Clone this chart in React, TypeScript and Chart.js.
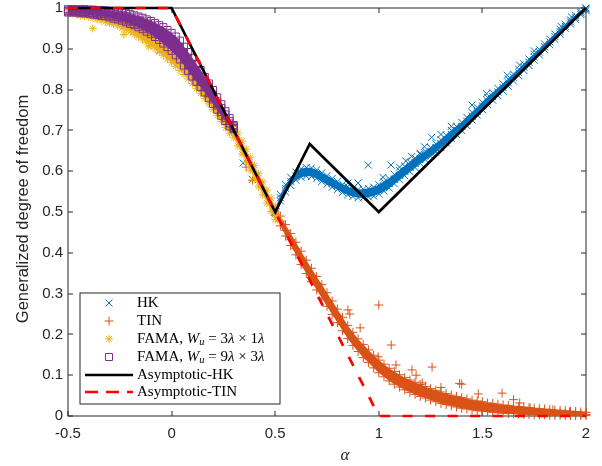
import React, { useEffect, useRef } from "react";
import { Chart, registerables } from "chart.js";
Chart.register(...registerables);

// ---------- axis ticks ----------
const xTicks = [-0.5, 0, 0.5, 1, 1.5, 2];
const yTicks = [0, 0.1, 0.2, 0.3, 0.4, 0.5, 0.6, 0.7, 0.8, 0.9, 1];

// ---------- HK / TIN (alpha from 0.5 to 2) ----------
const hkTinAlpha = [0.5,0.525,0.55,0.575,0.6,0.625,0.65,0.675,0.7,0.725,0.75,0.775,0.8,0.825,0.85,0.875,0.9,0.925,0.95,0.975,1,1.025,1.05,1.075,1.1,1.125,1.15,1.175,1.2,1.225,1.25,1.275,1.3,1.325,1.35,1.375,1.4,1.425,1.45,1.475,1.5,1.525,1.55,1.575,1.6,1.625,1.65,1.675,1.7,1.725,1.75,1.775,1.8,1.825,1.85,1.875,1.9,1.925,1.95,1.975,2];

const hkHigh = [.504,.543,.567,.585,.598,.606,.609,.608,.603,.596,.589,.582,.575,.568,.562,.558,.555,.556,.558,.561,.567,.574,.582,.592,.602,.612,.622,.632,.641,.649,.658,.667,.677,.688,.700,.710,.720,.732,.744,.756,.769,.781,.792,.803,.814,.826,.838,.850,.863,.875,.887,.899,.912,.924,.936,.948,.960,.971,.982,.992,1.0];
const hkMid = [.500,.535,.558,.575,.588,.595,.598,.597,.592,.585,.578,.571,.565,.558,.552,.548,.545,.545,.547,.550,.555,.562,.570,.580,.590,.600,.610,.620,.630,.638,.647,.657,.667,.678,.690,.700,.710,.722,.735,.747,.760,.772,.783,.794,.805,.817,.830,.842,.855,.867,.880,.892,.905,.917,.930,.942,.955,.966,.977,.988,.997];
const hkLow = [.496,.527,.549,.565,.578,.585,.588,.587,.582,.575,.568,.561,.555,.548,.542,.538,.535,.535,.537,.539,.544,.551,.559,.569,.579,.589,.599,.609,.619,.628,.637,.647,.658,.669,.680,.690,.700,.712,.725,.738,.751,.763,.774,.785,.796,.808,.821,.834,.847,.859,.872,.885,.898,.910,.923,.936,.950,.961,.972,.984,.994];
const hkExtraX = [-0.056,0.345,0.39,0.851,0.9,0.949,1.02,1.059,1.1,1.13,1.159,1.199,1.22,1.255,1.3,1.35,1.45,1.52,1.62,1.68,1.75,1.88,1.93];
const hkExtraY = [0.897,0.62,0.58,0.571,0.571,0.615,0.585,0.615,0.61,0.625,0.636,0.644,0.66,0.683,0.69,0.71,0.762,0.79,0.835,0.86,0.895,0.955,0.978];

const tinHigh = [.508,.490,.469,.447,.426,.404,.382,.362,.342,.322,.302,.282,.262,.242,.222,.205,.189,.175,.162,.149,.137,.127,.117,.109,.101,.094,.088,.083,.077,.072,.067,.063,.059,.055,.051,.048,.045,.042,.039,.037,.035,.032,.031,.029,.027,.026,.024,.023,.022,.020,.019,.018,.017,.016,.014,.014,.013,.012,.011,.010,.009];
const tinMid = [.500,.478,.455,.432,.410,.387,.365,.345,.325,.305,.285,.265,.245,.225,.205,.188,.172,.158,.145,.132,.120,.110,.100,.092,.085,.078,.072,.067,.062,.057,.052,.048,.044,.040,.037,.034,.031,.028,.026,.024,.022,.020,.019,.017,.016,.015,.014,.013,.012,.011,.010,.010,.009,.008,.007,.007,.006,.005,.005,.004,.004];
const tinLow = [.492,.466,.441,.418,.395,.371,.349,.329,.309,.289,.269,.249,.229,.209,.190,.173,.158,.143,.131,.118,.106,.096,.086,.078,.071,.064,.058,.053,.048,.044,.039,.035,.031,.028,.025,.022,.019,.017,.015,.013,.012,.011,.009,.008,.007,.006,.006,.005,.004,.004,.003,.003,.003,.002,.002,.002,.001,.001,.001,.001,.001];
const tinExtraX = [-0.056,0.36,0.39,0.851,0.86,0.91,0.997,1.0,1.06,1.083,1.16,1.18,1.21,1.257,1.3,1.39,1.40,1.48,1.595,1.65,1.68,1.73,1.84,1.92];
const tinExtraY = [0.9,0.61,0.578,0.26,0.25,0.216,0.145,0.272,0.174,0.125,0.113,0.1,0.081,0.12,0.07,0.08,0.078,0.054,0.056,0.04,0.032,0.02,0.015,0.01];

// ---------- FAMA, Wu = 3λ x 1λ (alpha from -0.5 to 0.5) ----------
const f3Alpha = [-0.5,-0.48,-0.46,-0.44,-0.42,-0.4,-0.38,-0.36,-0.34,-0.32,-0.3,-0.28,-0.26,-0.24,-0.22,-0.2,-0.18,-0.16,-0.14,-0.12,-0.1,-0.08,-0.06,-0.04,-0.02,0,0.02,0.04,0.06,0.08,0.1,0.12,0.14,0.16,0.18,0.2,0.22,0.24,0.26,0.28,0.3,0.32,0.34,0.36,0.38,0.4,0.42,0.44,0.46,0.48,0.5];
const f3Top = [.995,.994,.993,.992,.991,.990,.988,.986,.984,.982,.979,.976,.973,.969,.965,.961,.956,.951,.945,.939,.932,.925,.917,.909,.900,.891,.881,.871,.860,.849,.837,.825,.812,.799,.785,.771,.757,.742,.727,.713,.714,.694,.674,.654,.634,.614,.594,.574,.554,.534,.514];
const f3Bot = [.988,.986,.984,.982,.980,.978,.975,.972,.969,.966,.963,.960,.956,.951,.946,.941,.935,.929,.922,.915,.908,.900,.892,.884,.875,.866,.857,.847,.837,.826,.815,.803,.791,.778,.765,.751,.737,.722,.707,.693,.682,.662,.642,.622,.602,.582,.562,.542,.522,.502,.482];
const f3ExtraX = [-0.45,-0.38,-0.3,-0.23,-0.11,0.51,0.52];
const f3ExtraY = [0.985,0.95,0.965,0.935,0.905,0.49,0.478];

// ---------- FAMA, Wu = 9λ x 3λ (alpha from -0.5 to 0.3) ----------
const f9Alpha = [-0.5,-0.48,-0.46,-0.44,-0.42,-0.4,-0.38,-0.36,-0.34,-0.32,-0.3,-0.28,-0.26,-0.24,-0.22,-0.2,-0.18,-0.16,-0.14,-0.12,-0.1,-0.08,-0.06,-0.04,-0.02,0,0.02,0.04,0.06,0.08,0.1,0.12,0.14,0.16,0.18,0.2,0.22,0.24,0.26,0.28,0.3];
const f9R1 = [.997,.997,.997,.997,.997,.996,.996,.995,.995,.994,.993,.992,.990,.989,.987,.985,.982,.979,.976,.972,.968,.963,.958,.953,.946,.939,.930,.920,.905,.892,.878,.863,.848,.831,.815,.799,.781,.764,.747,.730,.713];
const f9R2 = [.994,.994,.994,.994,.994,.993,.992,.991,.990,.989,.988,.986,.984,.982,.980,.977,.974,.970,.967,.962,.957,.952,.946,.940,.932,.924,.915,.905,.890,.877,.863,.848,.834,.818,.803,.788,.771,.755,.739,.723,.710];
const f9R3 = [.992,.992,.992,.990,.990,.989,.988,.987,.986,.985,.982,.980,.978,.976,.972,.969,.966,.962,.957,.952,.947,.940,.934,.926,.918,.910,.899,.889,.874,.861,.847,.834,.820,.806,.791,.776,.761,.745,.731,.717,.706];
const f9R4 = [.989,.989,.989,.987,.987,.986,.984,.983,.981,.980,.977,.974,.972,.969,.965,.961,.958,.953,.948,.942,.936,.929,.922,.913,.904,.895,.884,.874,.859,.846,.832,.819,.806,.793,.779,.765,.751,.736,.723,.710,.703];

// ---------- asymptotic curves ----------
const asymHKx = [-0.5, 0, 0.5, 0.6667, 1, 2];
const asymHKy = [1, 1, 0.5, 0.6667, 0.5, 1];
const asymTINx = [-0.5, 0, 0.5, 1, 2];
const asymTINy = [1, 1, 0.5, 0, 0];

const C_HK = "#0072BD";
const C_TIN = "#D95319";
const C_F3 = "#EDB120";
const C_F9 = "#7E2F8E";
const AXIS = "#262626";
const SANS = '"Liberation Sans", Arial, Helvetica, sans-serif';
const SERIF = '"Liberation Serif", "Times New Roman", serif';

const pts = (xs: number[], ys: number[]) => xs.map((x, i) => ({ x, y: ys[i] }));

function drawMarker(ctx: CanvasRenderingContext2D, kind: string, x: number, y: number, color: string) {
  ctx.save();
  ctx.strokeStyle = color;
  ctx.lineWidth = 1;
  ctx.beginPath();
  if (kind === "x") {
    const s = 3.5;
    ctx.moveTo(x - s, y - s); ctx.lineTo(x + s, y + s);
    ctx.moveTo(x - s, y + s); ctx.lineTo(x + s, y - s);
  } else if (kind === "+") {
    const s = 4.5;
    ctx.moveTo(x - s, y); ctx.lineTo(x + s, y);
    ctx.moveTo(x, y - s); ctx.lineTo(x, y + s);
  } else if (kind === "*") {
    const s = 4, d = 2.8;
    ctx.moveTo(x - s, y); ctx.lineTo(x + s, y);
    ctx.moveTo(x, y - s); ctx.lineTo(x, y + s);
    ctx.moveTo(x - d, y - d); ctx.lineTo(x + d, y + d);
    ctx.moveTo(x - d, y + d); ctx.lineTo(x + d, y - d);
  } else if (kind === "sq") {
    ctx.rect(x - 3.5, y - 3.5, 7, 7);
  }
  ctx.stroke();
  ctx.restore();
}

type Run = { t: string; f: string; dy?: number };
function drawRuns(ctx: CanvasRenderingContext2D, runs: Run[], x: number, y: number) {
  let cx = x;
  for (const r of runs) {
    ctx.font = r.f;
    ctx.fillText(r.t, cx, y + (r.dy || 0));
    cx += ctx.measureText(r.t).width;
  }
}

const matlabPlugin = {
  id: "matlabDecor",
  beforeDatasetsDraw(chart: any) {
    const { ctx, chartArea: a, scales } = chart;
    ctx.save();
    ctx.strokeStyle = AXIS;
    ctx.lineWidth = 1;
    ctx.strokeRect(a.left, a.top, a.right - a.left, a.bottom - a.top);
    ctx.beginPath();
    for (const v of xTicks) {
      const px = Math.round(scales.x.getPixelForValue(v));
      ctx.moveTo(px, a.bottom); ctx.lineTo(px, a.bottom - 5);
      ctx.moveTo(px, a.top); ctx.lineTo(px, a.top + 5);
    }
    for (const v of yTicks) {
      const py = Math.round(scales.y.getPixelForValue(v));
      ctx.moveTo(a.left, py); ctx.lineTo(a.left + 5, py);
      ctx.moveTo(a.right, py); ctx.lineTo(a.right - 5, py);
    }
    ctx.stroke();
    ctx.restore();
  },
  afterDraw(chart: any) {
    const { ctx, chartArea: a } = chart;
    ctx.save();
    ctx.fillStyle = AXIS;
    ctx.font = `16.5px ${SANS}`;
    ctx.textAlign = "center";
    ctx.textBaseline = "middle";
    ctx.save();
    ctx.translate(23, (a.top + a.bottom) / 2 - 3);
    ctx.rotate(-Math.PI / 2);
    ctx.fillText("Generalized degree of freedom", 0, 0);
    ctx.restore();
    ctx.font = `italic 17px ${SERIF}`;
    ctx.textBaseline = "alphabetic";
    ctx.fillText("\u03B1", 345, 460);

    // legend
    const bx = 80, by = 293, bw = 200, bh = 111;
    ctx.fillStyle = "#ffffff";
    ctx.fillRect(bx, by, bw, bh);
    ctx.strokeStyle = AXIS;
    ctx.lineWidth = 1;
    ctx.strokeRect(bx, by, bw, bh);

    const rows = [303, 321, 339, 357, 375, 392];
    const mx = 109, tx = 137;
    drawMarker(ctx, "x", mx, rows[0], C_HK);
    drawMarker(ctx, "+", mx, rows[1], C_TIN);
    drawMarker(ctx, "*", mx, rows[2], C_F3);
    drawMarker(ctx, "sq", mx, rows[3], C_F9);
    ctx.lineWidth = 2.7;
    ctx.strokeStyle = "#000";
    ctx.beginPath(); ctx.moveTo(85, rows[4]); ctx.lineTo(133, rows[4]); ctx.stroke();
    ctx.strokeStyle = "#FF0000";
    ctx.setLineDash([13, 8]);
    ctx.beginPath(); ctx.moveTo(85, rows[5]); ctx.lineTo(133, rows[5]); ctx.stroke();
    ctx.setLineDash([]);

    const N = `15px ${SERIF}`;
    const I = `italic 15px ${SERIF}`;
    const S = `italic 10.5px ${SERIF}`;
    ctx.fillStyle = "#000";
    ctx.textAlign = "left";
    ctx.textBaseline = "middle";
    drawRuns(ctx, [{ t: "HK", f: N }], tx, rows[0]);
    drawRuns(ctx, [{ t: "TIN", f: N }], tx, rows[1]);
    drawRuns(ctx, [
      { t: "FAMA, ", f: N }, { t: "W", f: I }, { t: "u", f: S, dy: 3 },
      { t: " = 3", f: N }, { t: "\u03BB", f: I }, { t: " \u00D7 1", f: N }, { t: "\u03BB", f: I },
    ], tx, rows[2]);
    drawRuns(ctx, [
      { t: "FAMA, ", f: N }, { t: "W", f: I }, { t: "u", f: S, dy: 3 },
      { t: " = 9", f: N }, { t: "\u03BB", f: I }, { t: " \u00D7 3", f: N }, { t: "\u03BB", f: I },
    ], tx, rows[3]);
    drawRuns(ctx, [{ t: "Asymptotic-HK", f: N }], tx, rows[4]);
    drawRuns(ctx, [{ t: "Asymptotic-TIN", f: N }], tx, rows[5]);
    ctx.restore();
  },
};

// dense point clouds: a filled band between the outer rows, with the markers on top
function bandPair(xs: number[], hi: number[], lo: number[], color: string, order: number) {
  return [
    { label: "band-hi", data: pts(xs, hi), showLine: true, borderWidth: 0, borderColor: "rgba(0,0,0,0)", pointRadius: 0, fill: "+1", backgroundColor: color, order },
    { label: "band-lo", data: pts(xs, lo), showLine: true, borderWidth: 0, borderColor: "rgba(0,0,0,0)", pointRadius: 0, fill: false, order },
  ];
}

export default function App() {
  const canvasRef = useRef<HTMLCanvasElement | null>(null);

  useEffect(() => {
    if (!canvasRef.current) return;
    const hkData = [...pts(hkTinAlpha, hkHigh), ...pts(hkTinAlpha, hkMid), ...pts(hkTinAlpha, hkLow), ...pts(hkExtraX, hkExtraY)];
    const tinData = [...pts(hkTinAlpha, tinHigh), ...pts(hkTinAlpha, tinMid), ...pts(hkTinAlpha, tinLow), ...pts(tinExtraX, tinExtraY)];
    const f3Data = [...pts(f3Alpha, f3Top), ...pts(f3Alpha, f3Bot), ...pts(f3ExtraX, f3ExtraY)];
    const f9Data = [...pts(f9Alpha, f9R1), ...pts(f9Alpha, f9R2), ...pts(f9Alpha, f9R3), ...pts(f9Alpha, f9R4)];

    const chart = new Chart(canvasRef.current, {
      type: "scatter",
      data: {
        datasets: [
          { label: "Asymptotic-TIN", data: pts(asymTINx, asymTINy), showLine: true, borderColor: "#FF0000", borderWidth: 2.7, borderDash: [10, 12.5], pointRadius: 0, order: 0, clip: false },
          { label: "Asymptotic-HK", data: pts(asymHKx, asymHKy), showLine: true, borderColor: "#000000", borderWidth: 2.7, borderJoinStyle: "miter", pointRadius: 0, order: 1, clip: false },
          { label: "FAMA 9x3", data: f9Data, pointStyle: "rect", pointRadius: 5, pointBorderWidth: 1, pointBorderColor: C_F9, borderColor: C_F9, pointBackgroundColor: "rgba(0,0,0,0)", backgroundColor: "rgba(0,0,0,0)", order: 2, clip: false },
          ...bandPair(f9Alpha, f9R1, f9R4, C_F9, 2),
          { label: "FAMA 3x1", data: f3Data, pointStyle: "star", pointRadius: 4, pointBorderWidth: 1, pointBorderColor: C_F3, borderColor: C_F3, backgroundColor: C_F3, order: 3, clip: false },
          ...bandPair(f3Alpha, f3Top, f3Bot, C_F3, 3),
          { label: "TIN", data: tinData, pointStyle: "cross", pointRadius: 4.5, pointBorderWidth: 1, pointBorderColor: C_TIN, borderColor: C_TIN, backgroundColor: C_TIN, order: 4, clip: false },
          ...bandPair(hkTinAlpha, tinHigh, tinLow, C_TIN, 4),
          { label: "HK", data: hkData, pointStyle: "crossRot", pointRadius: 5, pointBorderWidth: 1, pointBorderColor: C_HK, borderColor: C_HK, backgroundColor: C_HK, order: 5, clip: false },
          ...bandPair(hkTinAlpha, hkHigh, hkLow, C_HK, 5),
        ] as any,
      },
      options: {
        responsive: false,
        animation: false,
        devicePixelRatio: 1,
        events: [],
        layout: { padding: { top: 8, right: 16, left: 0, bottom: 0 } },
        plugins: { legend: { display: false }, tooltip: { enabled: false } },
        scales: {
          x: {
            type: "linear",
            min: -0.5,
            max: 2,
            grid: { display: false, drawTicks: false },
            border: { display: false },
            afterBuildTicks: (s: any) => { s.ticks = xTicks.map((v) => ({ value: v })); },
            afterFit: (s: any) => { s.height = 50; s.paddingLeft = 0; s.paddingRight = 0; s.paddingTop = 0; s.paddingBottom = 0; },
            ticks: { color: AXIS, font: { family: SANS, size: 15 }, padding: 9, maxRotation: 0, autoSkip: false, callback: (v: any) => String(v) },
          },
          y: {
            type: "linear",
            min: 0,
            max: 1,
            grid: { display: false, drawTicks: false },
            border: { display: false },
            afterBuildTicks: (s: any) => { s.ticks = yTicks.map((v) => ({ value: v })); },
            afterFit: (s: any) => { s.width = 68; s.paddingLeft = 0; s.paddingRight = 0; s.paddingTop = 0; s.paddingBottom = 0; },
            ticks: { color: AXIS, font: { family: SANS, size: 15 }, padding: 5, autoSkip: false, callback: (v: any) => String(v) },
          },
        },
      } as any,
      plugins: [matlabPlugin as any],
    });
    return () => chart.destroy();
  }, []);

  return (
    <div style={{ position: "fixed", left: 0, top: 0, width: 602, height: 466, background: "#fff" }}>
      <canvas ref={canvasRef} width={602} height={466} style={{ display: "block" }} />
    </div>
  );
}
